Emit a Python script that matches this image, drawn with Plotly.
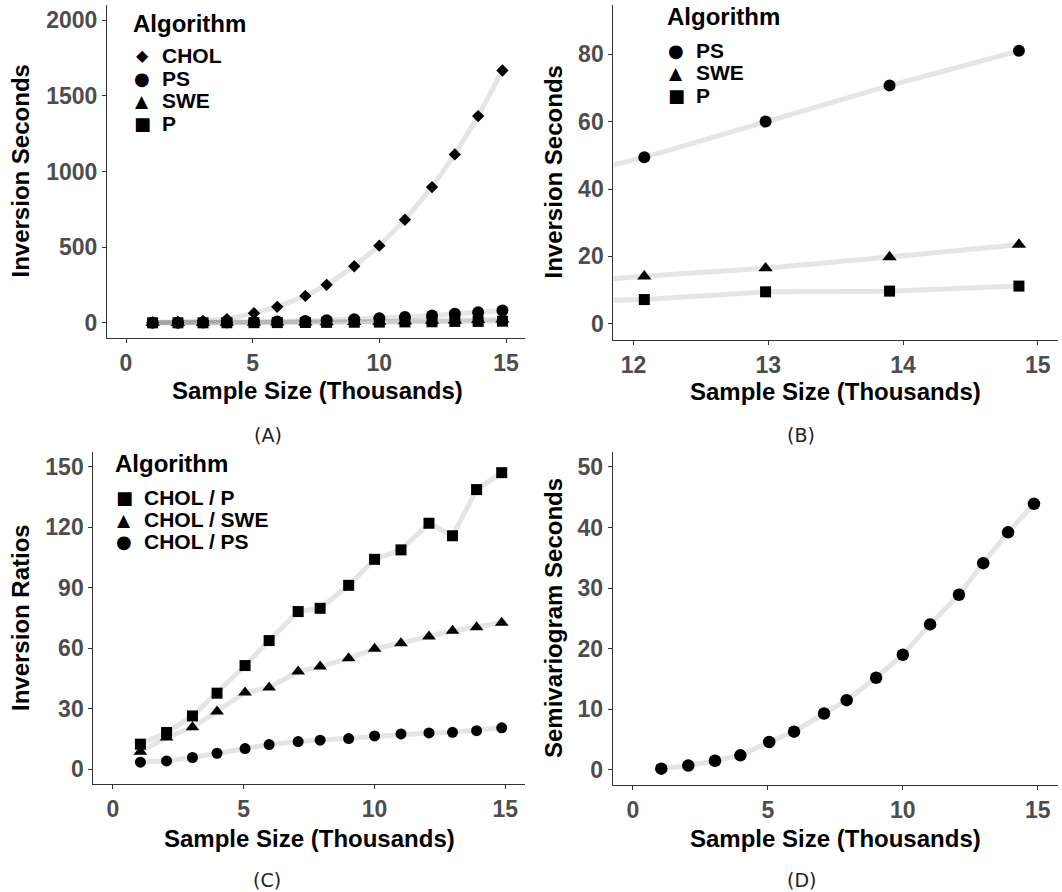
import plotly.graph_objects as go

# ---------------- data ----------------
sample_size = [1.05, 2.05, 3.04, 3.98, 5.05, 5.97, 7.08, 7.92, 9.01, 10.0, 11.01, 12.08, 12.98, 13.9, 14.86]

chol_sec = [3, 6, 12, 25, 64, 106, 178, 251, 374, 510, 681, 897, 1113, 1366, 1667]
ps_sec = [0.9, 1.5, 2.1, 3.2, 6.3, 8.7, 13.0, 17.4, 24.6, 30.9, 38.9, 49.4, 60.0, 70.7, 81.0]
swe_sec = [0.35, 0.4, 0.6, 0.9, 1.7, 2.6, 3.7, 4.9, 6.8, 8.5, 10.9, 14.1, 16.5, 19.8, 23.5]
p_sec = [0.25, 0.33, 0.45, 0.66, 1.25, 1.66, 2.28, 3.15, 4.1, 4.9, 6.26, 7.2, 9.5, 9.7, 11.2]

ratio_chol_p = [12.4, 18.2, 26.4, 37.7, 51.4, 63.8, 78.2, 79.8, 91.2, 104.1, 108.8, 122.0, 115.8, 138.7, 147.1]
ratio_chol_swe = [8.7, 15.7, 20.8, 28.6, 38.0, 40.5, 48.4, 50.9, 55.0, 59.7, 62.5, 65.8, 68.7, 70.4, 72.7]
ratio_chol_ps = [3.5, 4.1, 5.8, 7.9, 10.2, 12.2, 13.7, 14.4, 15.2, 16.5, 17.5, 18.0, 18.3, 19.1, 20.5]

semivariogram_sec = [0.2, 0.7, 1.5, 2.4, 4.6, 6.3, 9.3, 11.5, 15.2, 19.0, 24.0, 28.9, 34.1, 39.2, 43.9]

zoom_count = 4  # panel B shows the last four sample sizes

names_a = ["CHOL", "PS", "SWE", "P"]
names_b = ["PS", "SWE", "P"]
names_c = ["CHOL / P", "CHOL / SWE", "CHOL / PS"]
captions = ["(A)", "(B)", "(C)", "(D)"]

ticks_x_full = [0, 5, 10, 15]
ticks_x_zoom = [12, 13, 14, 15]
ticks_y_a = [0, 500, 1000, 1500, 2000]
ticks_y_b = [0, 20, 40, 60, 80]
ticks_y_c = [0, 30, 60, 90, 120, 150]
ticks_y_d = [0, 10, 20, 30, 40, 50]

# ---------------- styling ----------------
W, H = 1062, 892
def px(x):
    return x / W
def py(y):
    return 1 - y / H

LINE_COLOR = "rgba(0,0,0,0.1)"
LINE_W = 5
SYM = {"CHOL": ("diamond", 9.5), "PS": ("circle", 12), "SWE": ("triangle-up", 12.5), "P": ("square", 11)}
SYM_C = {"CHOL / P": ("square", 11), "CHOL / SWE": ("triangle-up", 12), "CHOL / PS": ("circle", 11)}
GLYPH = {"diamond": "\u25C6", "circle": "\u25CF", "triangle-up": "\u25B2", "square": "\u25A0"}
GLYPH_SIZE = {"diamond": 16, "circle": 18, "triangle-up": 17, "square": 18}

BOLD = "Liberation Sans, Arial, sans-serif"

fig = go.Figure()

def add_line(xa, ya, xs, ys):
    fig.add_trace(go.Scatter(x=xs, y=ys, mode="lines", line=dict(color=LINE_COLOR, width=LINE_W),
                             xaxis=xa, yaxis=ya, showlegend=False, hoverinfo="skip"))

def add_points(xa, ya, xs, ys, sym, size, name):
    fig.add_trace(go.Scatter(x=xs, y=ys, mode="markers", name=name,
                             marker=dict(symbol=sym, size=size, color="black", line=dict(width=0)),
                             xaxis=xa, yaxis=ya, showlegend=False, cliponaxis=False))

series_a = [chol_sec, ps_sec, swe_sec, p_sec]
series_b = [ps_sec, swe_sec, p_sec]
series_c = [ratio_chol_p, ratio_chol_swe, ratio_chol_ps]

# lines first (like a geom_line layer), then points
for ys in series_a:
    add_line("x", "y", sample_size, ys)
for ys in series_b:
    add_line("x2", "y2", sample_size, ys)
for ys in series_c:
    add_line("x3", "y3", sample_size, ys)
add_line("x4", "y4", sample_size, semivariogram_sec)

for nm, ys in zip(names_a, series_a):
    add_points("x", "y", sample_size, ys, SYM[nm][0], SYM[nm][1], nm)
for nm, ys in zip(names_b, series_b):
    add_points("x2", "y2", sample_size[-zoom_count:], ys[-zoom_count:], SYM[nm][0], SYM[nm][1], nm)
for nm, ys in zip(names_c, series_c):
    add_points("x3", "y3", sample_size, ys, SYM_C[nm][0], SYM_C[nm][1], nm)
add_points("x4", "y4", sample_size, semivariogram_sec, "circle", 12.5, "Semivariogram")

def axis(domain, rng, tickvals, anchor):
    return dict(domain=domain, range=rng, tickvals=tickvals, anchor=anchor,
                showline=True, linecolor="#333333", linewidth=1,
                ticks="outside", ticklen=4, tickwidth=1, tickcolor="#333333",
                showgrid=False, zeroline=False, fixedrange=True,
                tickfont=dict(family=BOLD, size=23, color="#4d4d4d", weight="bold"))

panels = {
    "A": dict(x=(107, 525), y=(5, 338)),
    "B": dict(x=(613.3, 1058), y=(5, 340)),
    "C": dict(x=(93.3, 525), y=(451.7, 784.3)),
    "D": dict(x=(612.7, 1058), y=(451.7, 785)),
}
def xdom(k):
    a, b = panels[k]["x"]
    return [px(a), px(b)]
def ydom(k):
    a, b = panels[k]["y"]
    return [py(b), py(a)]

fig.update_layout(
    width=W, height=H, autosize=False,
    margin=dict(l=0, r=0, t=0, b=0),
    paper_bgcolor="white", plot_bgcolor="white",
    showlegend=False,
    xaxis=axis(xdom("A"), [-0.75, 15.75], ticks_x_full, "y"),
    yaxis=axis(ydom("A"), [-100, 2100], ticks_y_a, "x"),
    xaxis2=axis(xdom("B"), [11.85, 15.15], ticks_x_zoom, "y2"),
    yaxis2=axis(ydom("B"), [-4.8, 94.6], ticks_y_b, "x2"),
    xaxis3=axis(xdom("C"), [-0.75, 15.75], ticks_x_full, "y3"),
    yaxis3=axis(ydom("C"), [-7.5, 157.5], ticks_y_c, "x3"),
    xaxis4=axis(xdom("D"), [-0.75, 15.75], ticks_x_full, "y4"),
    yaxis4=axis(ydom("D"), [-2.5, 52.5], ticks_y_d, "x4"),
)

ann = []
def text(x, y, s, size=24, bold=True, angle=0, xanchor="center", color="black",
         family=BOLD):
    ann.append(dict(x=px(x), y=py(y), xref="paper", yref="paper", text=s, showarrow=False,
                    xanchor=xanchor, yanchor="middle", textangle=angle, borderpad=0,
                    font=dict(family=family, size=size, color=color,
                              weight="bold" if bold else "normal")))

# axis titles
xt = "Sample Size (Thousands)"
text(317, 390, xt)
text(835.7, 391, xt)
text(309, 838, xt)
text(835.4, 838, xt)
text(20, 171.5, "Inversion Seconds", angle=-90)
text(553, 172.5, "Inversion Seconds", angle=-90)
text(20, 618, "Inversion Ratios", angle=-90)
text(553, 618, "Semivariogram Seconds", angle=-90)

# captions
cap_pos = [(268, 435), (801, 435), (267, 880), (801, 880)]
for c, (cx, cy) in zip(captions, cap_pos):
    text(cx, cy, c, size=19, bold=False, color="#222222", family="DejaVu Sans, sans-serif")

# legends (drawn as text, ggplot-like tight spacing)
def legend(title_xy, key_x, text_x, ys, names, symmap):
    text(title_xy[0], title_xy[1], "Algorithm", size=24, xanchor="left")
    for nm, yy in zip(names, ys):
        sym = symmap[nm][0]
        text(key_x, yy, GLYPH[sym], size=GLYPH_SIZE[sym], bold=False,
             family="DejaVu Sans, sans-serif")
        text(text_x, yy, nm, size=21, xanchor="left")

legend((132, 23), 142, 161, [56, 78.5, 101, 123.5], names_a, SYM)
legend((666, 16), 676, 695, [50, 72.5, 95], names_b, SYM)
legend((114, 463), 124, 143, [497.3, 519.5, 541.7], names_c, SYM_C)

fig.update_layout(annotations=ann)
fig.write_html("out.html")
